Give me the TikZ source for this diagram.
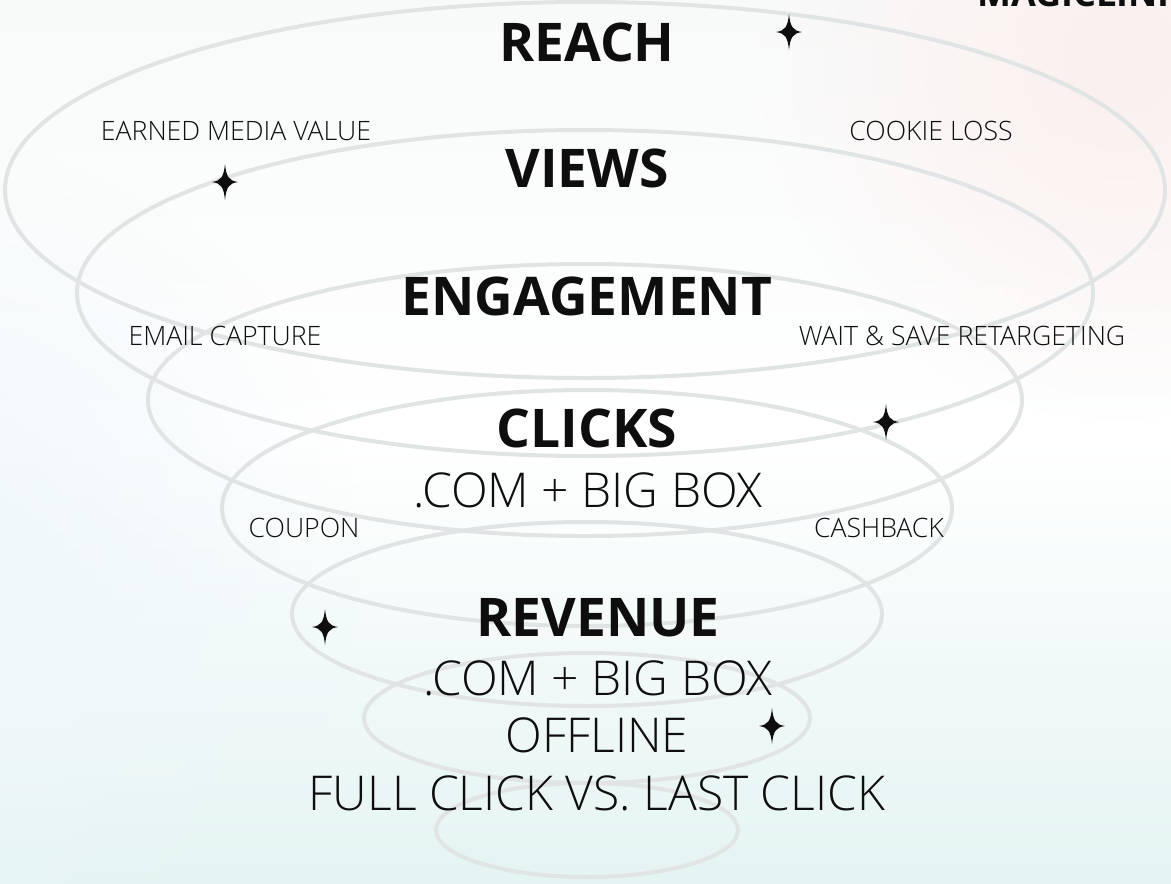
\documentclass[tikz,border=0pt]{standalone}
\usepackage{fontspec}
\setmainfont{Open Sans}
\newfontfamily\fnlight{Open Sans Light}
\usepackage{tikz}
\usetikzlibrary{fadings,positioning}
\definecolor{fnInk}{HTML}{0E0E0E}
\definecolor{fnRing}{HTML}{E1E4E4}
\definecolor{fnMint}{HTML}{E4F4F2}
\definecolor{fnHaze}{HTML}{F8FAFA}
\definecolor{fnBlush}{HTML}{FBF0EE}
\definecolor{fnSky}{HTML}{EFF7FB}
\tikzfading[name=fn glow, inner color=transparent!0, outer color=transparent!100]
\tikzset{
  fn diagram/.style={x=0.75pt, y=-0.75pt, text=fnInk},
  fn ring/.style={draw=fnRing, line width=3pt},
  fn title/.style={font=\fontsize{40}{46}\selectfont\bfseries, inner sep=0pt},
  fn line/.style={font=\fnlight\fontsize{36}{42}\selectfont, inner sep=0pt},
  fn label/.style={font=\fnlight\fontsize{20}{24}\selectfont, inner sep=0pt},
  fn spark/.pic={
    \fill[fnInk] (0,-18) .. controls (1.3,-5) and (4,-1.3) .. (13,0)
      .. controls (4,1.3) and (1.3,5) .. (0,18)
      .. controls (-1.3,5) and (-4,1.3) .. (-13,0)
      .. controls (-4,-1.3) and (-1.3,-5) .. (0,-18) -- cycle;
  }
}

\begin{document}
\begin{tikzpicture}[fn diagram]
\useasboundingbox (0,0) rectangle (1171,883);
\clip (0,0) rectangle (1171,883);
% soft backdrop
\shade[top color=fnHaze, bottom color=fnMint, middle color=white] (0,0) rectangle (1171,883);
\fill[fnSky, path fading=fn glow] (-60,560) circle [radius=420];
\fill[fnBlush, path fading=fn glow] (1120,60) circle [radius=360];
% funnel rings, widest first
\foreach \cx/\cy/\rx/\ry in {585/190/580/188, 585/293/508/163, 585/400/437/136,
    587/508/365/118, 587/614/295/92, 587/718/223/65, 587/830/151/47}{
  \draw[fn ring] (\cx,\cy) ellipse [x radius=\rx, y radius=\ry];
}
% stage titles
\node[fn title] (reach) at (587,42) {REACH};
\node[fn title] (views) at (587,168) {VIEWS};
\node[fn title] (engagement) at (587,296) {ENGAGEMENT};
\node[fn title] (clicks) at (587,428) {CLICKS};
\node[fn line] (clicksSub) at (588,490) {.COM + BIG BOX};
\node[fn title] (revenue) at (598,618) {REVENUE};
\node[fn line] (revenueSub) at (598,678) {.COM + BIG BOX};
\node[fn line] (offline) at (597,735) {OFFLINE};
\node[fn line] (fullClick) at (597,793) {FULL CLICK VS. LAST CLICK};
% side notes
\node[fn label] (earned) at (236,131) {EARNED MEDIA VALUE};
\node[fn label] (cookie) at (931,131) {COOKIE LOSS};
\node[fn label] (email) at (225,336) {EMAIL CAPTURE};
\node[fn label] (waitSave) at (962,336) {WAIT \& SAVE RETARGETING};
\node[fn label] (coupon) at (304,528) {COUPON};
\node[fn label] (cashback) at (879,528) {CASHBACK};
\node[font=\fontsize{27}{30}\selectfont\bfseries, inner sep=0pt, anchor=base west]
  (brand) at (977,6) {MAGICLINK};
% sparkles
\foreach \sx/\sy in {789/32, 225/182, 886/422, 325/627, 772/726}
  \pic at (\sx,\sy) {fn spark};
\end{tikzpicture}
\end{document}
